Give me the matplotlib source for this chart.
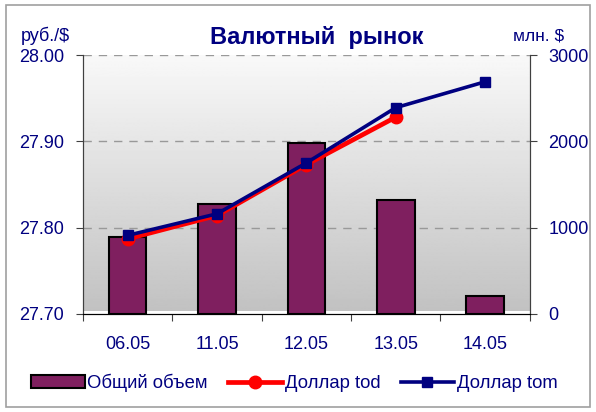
import numpy as np
import matplotlib.pyplot as plt
from matplotlib.patches import Rectangle

plt.rcParams['font.family'] = ['Liberation Sans', 'DejaVu Sans']

dates = ['06.05', '11.05', '12.05', '13.05', '14.05']
volume = [890, 1275, 1980, 1320, 210]
usd_tod = [27.787, 27.814, 27.873, 27.928]
usd_tom = [27.791, 27.816, 27.875, 27.939, 27.969]

navy = '#000080'
x = np.arange(len(dates))

fig = plt.figure(figsize=(5.96, 4.12), dpi=100)
ax = fig.add_axes([0.139, 0.238, 0.75, 0.6285])
ax2 = ax.twinx()

# gradient background
grad = np.linspace(0.975, 0.76, 256).reshape(-1, 1)
ax.imshow(grad, extent=[0, 1, 0.01, 1], transform=ax.transAxes, aspect='auto',
          cmap='gray', vmin=0, vmax=1, zorder=0)

ax.bar(x, volume, width=0.42, color='#7f1f5f', edgecolor='black', linewidth=1.5, zorder=3,
       label='Общий объем')
ax.set_xlim(-0.5, len(dates) - 0.5)
ax.set_ylim(0, 3000)
ax.set_yticks([0, 1000, 2000, 3000])
ax.yaxis.tick_right()
ax.yaxis.set_label_position('right')
for v in [1000, 2000, 3000]:
    ax.axhline(v, color='#999999', lw=1, ls=(0, (6, 5)), zorder=1)

ax2.plot(x[:len(usd_tod)], usd_tod, color='red', lw=3.4, marker='o', markersize=9,
         label='Доллар tod', zorder=4)
ax2.plot(x, usd_tom, color=navy, lw=2.6, marker='s', markersize=7,
         label='Доллар tom', zorder=5)
ax2.set_ylim(27.70, 28.00)
ax2.set_yticks([27.70, 27.80, 27.90, 28.00])
ax2.set_yticklabels(['27.70', '27.80', '27.90', '28.00'])
ax2.yaxis.tick_left()

ax.set_xticks(np.arange(-0.5, len(dates), 1))
ax.set_xticklabels([])
ax.set_xticks(x, minor=True)
ax.set_xticklabels(dates, minor=True)
ax.tick_params(axis='x', which='major', length=5, direction='out', color='#404040')
ax.tick_params(axis='x', which='minor', length=0, pad=16, labelsize=13, labelcolor=navy)
ax.tick_params(axis='y', length=5, pad=8.5, labelsize=13, labelcolor=navy, color='#404040')
ax2.tick_params(axis='y', length=5, pad=8.5, labelsize=13, labelcolor=navy, color='#404040')

for a in (ax, ax2):
    a.spines['top'].set_visible(False)
    a.spines['left'].set_color('#404040')
    a.spines['right'].set_color('#404040')
    a.spines['bottom'].set_color('black')

fig.text(0.532, 0.91, 'Валютный  рынок', ha='center', va='center', fontsize=17,
         fontweight='bold', color=navy)
fig.text(0.035, 0.913, 'руб./$', ha='left', va='center', fontsize=13, color=navy)
fig.text(0.86, 0.913, 'млн. $', ha='left', va='center', fontsize=12.5, color=navy)

h1, l1 = ax.get_legend_handles_labels()
h2, l2 = ax2.get_legend_handles_labels()
fig.legend(h1 + h2, l1 + l2, loc='center', bbox_to_anchor=(0.494, 0.07), ncol=3,
           frameon=False, fontsize=13.3, labelcolor=navy, handlelength=2.9,
           handletextpad=0.15, columnspacing=1.1)

fig.patches.append(Rectangle((0.01, 0.012), 0.98, 0.975, transform=fig.transFigure,
                             fill=False, edgecolor='#a0a0a0', lw=1.2))

fig.savefig('out.png', dpi=100)
